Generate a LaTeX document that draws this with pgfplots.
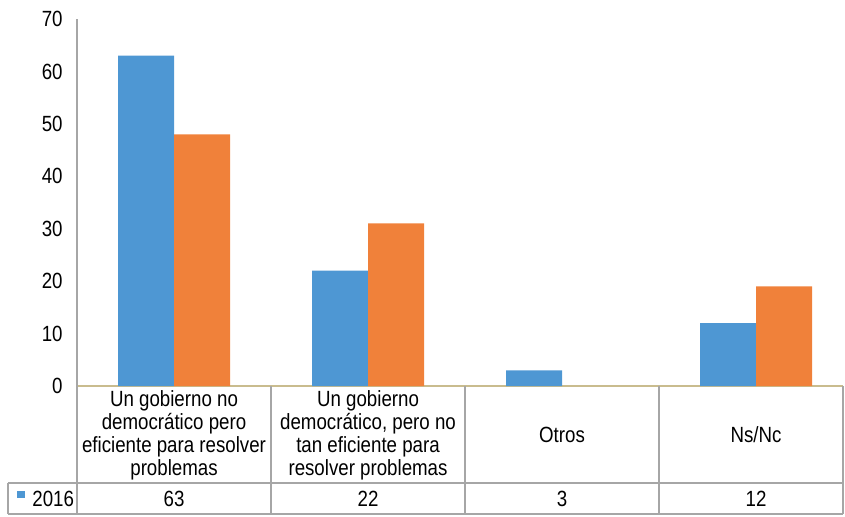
\documentclass[border=0pt]{standalone}
\usepackage{pgfplots}
\pgfplotsset{compat=1.18}
\usepackage{fontspec}
\setmainfont{Liberation Sans}[FakeStretch=0.85]
\definecolor{sblue}{HTML}{4E97D3}
\definecolor{sorange}{HTML}{F0813A}
\definecolor{gridg}{HTML}{A6A6A6}
\definecolor{xaxis}{HTML}{C9BC8E}

\begin{document}
\begin{tikzpicture}[font=\fontsize{11bp}{11.5bp}\selectfont]
\begin{axis}[
    scale only axis,
    width=383bp, height=183.5bp,
    xmin=-0.5, xmax=3.448,
    ymin=0, ymax=70,
    ytick={0,10,...,70},
    xtick=\empty,
    axis lines*=left,
    x axis line style={draw=xaxis, line width=0.8pt},
    y axis line style={draw=gridg, line width=0.8pt},
    ytick style={draw=none},
    yticklabel style={inner sep=0pt, anchor=east, xshift=-7bp},
    /pgf/number format/assume math mode=true,
    ybar=0pt, bar width=28bp,
    clip=false,
]
% 2016
\addplot[fill=sblue, draw=none] coordinates {(0,63) (1,22) (2,3) (3,12)};
% segunda serie
\addplot[fill=sorange, draw=none] coordinates {(0,48) (1,31) (3,19)};

\coordinate (o) at (axis cs:-0.5,0);

% tabla de datos
\draw[gridg, line width=0.6pt]
    (axis cs:-0.5,0) -- ([yshift=-64bp]axis cs:-0.5,0)
    (axis cs:0.5,0) -- ([yshift=-64bp]axis cs:0.5,0)
    (axis cs:1.5,0) -- ([yshift=-64bp]axis cs:1.5,0)
    (axis cs:2.5,0) -- ([yshift=-64bp]axis cs:2.5,0)
    (axis cs:3.448,0) -- ([yshift=-64bp]axis cs:3.448,0)
    ([xshift=-34.5bp,yshift=-48.5bp]axis cs:-0.5,0) -- ([yshift=-48.5bp]axis cs:3.448,0)
    ([xshift=-34.5bp,yshift=-64bp]axis cs:-0.5,0) -- ([yshift=-64bp]axis cs:3.448,0)
    ([xshift=-34.5bp,yshift=-48.5bp]axis cs:-0.5,0) -- ([xshift=-34.5bp,yshift=-64bp]axis cs:-0.5,0);

\node[align=center] at ([yshift=-24.5bp]axis cs:0,0)
    {Un gobierno no\\democrático pero\\eficiente para resolver\\problemas};
\node[align=center] at ([yshift=-24.5bp]axis cs:1,0)
    {Un gobierno\\democrático, pero no\\tan eficiente para\\resolver problemas};
\node at ([yshift=-24.5bp]axis cs:2,0) {Otros};
\node at ([yshift=-24.5bp]axis cs:3,0) {Ns/Nc};

\fill[sblue] ([xshift=-30bp,yshift=-52.5bp]axis cs:-0.5,0) rectangle ++(4bp,-3.5bp);
\node[anchor=west, inner sep=0pt] at ([xshift=-22.5bp,yshift=-56.25bp]axis cs:-0.5,0) {2016};
\node at ([yshift=-56.25bp]axis cs:0,0) {63};
\node at ([yshift=-56.25bp]axis cs:1,0) {22};
\node at ([yshift=-56.25bp]axis cs:2,0) {3};
\node at ([yshift=-56.25bp]axis cs:3,0) {12};
\end{axis}
\path ([shift={(-38.5bp,-65.5bp)}]o) rectangle ([shift={(384bp,193bp)}]o);
\end{tikzpicture}
\end{document}
